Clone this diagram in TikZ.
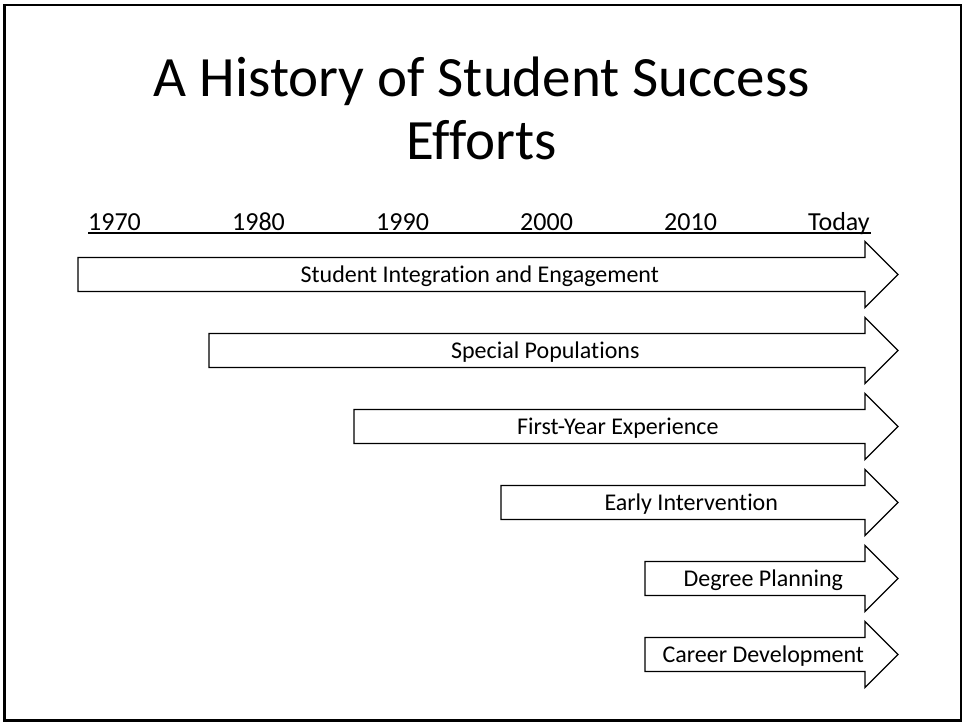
\documentclass[tikz,border=0pt]{standalone}
\usepackage{fontspec}
\setmainfont[Ligatures=CommonOff]{Carlito}
\newcommand\tlarrow[4]{%
  \draw[arrowshape] ({#2},{#3-17}) -- (865,{#3-17}) -- (865,{#3-33}) -- (898,{#3})
    -- (865,{#3+33}) -- (865,{#3+17}) -- ({#2},{#3+17}) -- cycle;
  \node[arrowlabel] (#1) at ({(#2+881.5)/2},{#3+8}) {#4};}
\begin{document}
\begin{tikzpicture}[x=1pt,y=-1pt,
  arrowshape/.style={draw=black, line width=1.3pt, fill=white, line join=miter},
  arrowlabel/.style={font=\fontsize{24}{28}\selectfont, anchor=base, inner sep=0pt},
  yearlabel/.style={font=\fontsize{26}{30}\selectfont, anchor=base west, inner sep=0pt},
  titlelabel/.style={font=\fontsize{57}{62}\selectfont, anchor=base, inner sep=0pt}]
\useasboundingbox (0,0) rectangle (965,723);
\draw[line width=2.5pt] (4.5,5) rectangle (961,720.5);
\node[titlelabel] (title1) at (482,96) {A History of Student Success};
\node[titlelabel] (title2) at (482,159) {Efforts};
\node[yearlabel] (y1970) at (88,230) {1970};
\node[yearlabel] (y1980) at (232,230) {1980};
\node[yearlabel] (y1990) at (376,230) {1990};
\node[yearlabel] (y2000) at (520,230) {2000};
\node[yearlabel] (y2010) at (664,230) {2010};
\node[yearlabel] (ytoday) at (808,230) {Today};
\coordinate (ulstart) at (88,233);
\coordinate (ulend) at (871,233);
\draw[line width=1.3pt] (ulstart) -- (ulend);
\tlarrow{a1}{78}{274.5}{Student Integration and Engagement}
\tlarrow{a2}{209}{350.5}{Special Populations}
\tlarrow{a3}{354}{426.5}{First-Year Experience}
\tlarrow{a4}{501}{502.5}{Early Intervention}
\tlarrow{a5}{645}{578.5}{Degree Planning}
\tlarrow{a6}{645}{654.5}{Career Development}
\end{tikzpicture}
\end{document}
